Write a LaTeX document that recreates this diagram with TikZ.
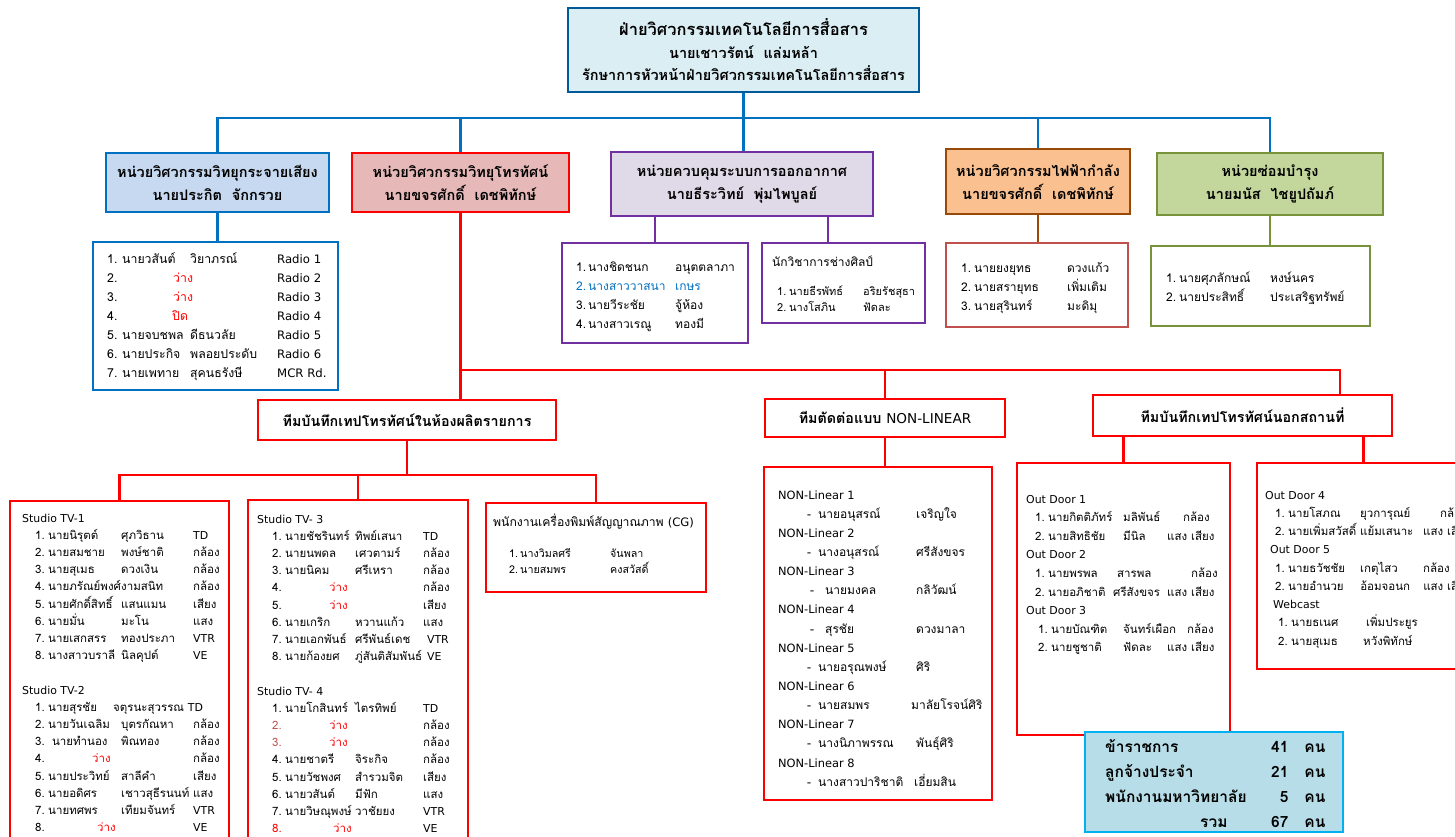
\documentclass[tikz,border=0pt]{standalone}
\usepackage{fontspec}
\setmainfont[Script=Thai]{Loma}
\newfontfamily\latfont[Scale=0.95]{DejaVu Sans}
\definecolor{topfill}{HTML}{DBEEF4}
\definecolor{wireblue}{HTML}{0070C0}
\definecolor{radiofill}{HTML}{C6D9F1}
\definecolor{tvfill}{HTML}{E6B9B8}
\definecolor{airfill}{HTML}{E0DAE8}
\definecolor{airline}{HTML}{7030A0}
\definecolor{powerfill}{HTML}{FAC090}
\definecolor{powerline}{HTML}{984807}
\definecolor{powerlist}{HTML}{C0504D}
\definecolor{greenfill}{HTML}{C3D69B}
\definecolor{greenline}{HTML}{77933C}
\definecolor{sumfill}{HTML}{B7DEE8}
\definecolor{sumline}{HTML}{00B0F0}
\definecolor{numred}{HTML}{C0504D}
\newcommand\lat[1]{{\latfont #1}}
\newcommand\redat[2]{\leavevmode\rlap{\hspace{#1}\textcolor{red}{#2}}}
\newcommand\vacantat[1]{\redat{#1}{ว่าง}}
\tikzset{
  unit/.style={draw, line width=2.2pt, inner sep=0pt, align=center, font=\bfseries\fontsize{14.5}{23}\selectfont},
  team/.style={draw=red, fill=white, line width=2.2pt, inner sep=0pt, font=\bfseries\fontsize{14.3}{16}\selectfont},
  listbox/.style={draw, line width=2pt, inner sep=0pt},
  txt/.style={inner sep=0pt, anchor=base west},
  wire/.style={line width=2.5pt},
}

\begin{document}
\begin{tikzpicture}[x=1pt,y=-1pt]
  \useasboundingbox (0,0) rectangle (1455,837);
  \clip (0,0) rectangle (1455,837);
  \fill[white] (0,0) rectangle (1455,837);

  % top
  \node[unit, fill=topfill, draw=wireblue!80!black, minimum width=351pt, minimum height=84pt, font=\bfseries\fontsize{14.5}{22.5}\selectfont] (faculty) at (743.5,50)
    {{\fontsize{16.5}{22.5}\selectfont ฝ่ายวิศวกรรมเทคโนโลยีการสื่อสาร}\\
     นายเชาวรัตน์\ \ แล่มหล้า\\
     รักษาการหัวหน้าฝ่ายวิศวกรรมเทคโนโลยีการสื่อสาร};

  % units
  \node[unit, fill=radiofill, draw=wireblue, minimum width=223pt, minimum height=59pt] (radio) at (217.5,182.5)
    {หน่วยวิศวกรรมวิทยุกระจายเสียง\\นายประกิต\ \ จักกรวย};
  \node[unit, fill=tvfill, draw=red, minimum width=217pt, minimum height=59pt] (tv) at (460.5,182.5)
    {หน่วยวิศวกรรมวิทยุโทรทัศน์\\นายขจรศักดิ์\ \ เดชพิทักษ์};
  \node[unit, fill=airfill, draw=airline, minimum width=262pt, minimum height=64pt] (air) at (742,184)
    {หน่วยควบคุมระบบการออกอากาศ\\นายธีระวิทย์\ \ พุ่มไพบูลย์};
  \node[unit, fill=powerfill, draw=powerline, minimum width=184pt, minimum height=65pt] (power) at (1038,181.5)
    {หน่วยวิศวกรรมไฟฟ้ากำลัง\\นายขจรศักดิ์\ \ เดชพิทักษ์};
  \node[unit, fill=greenfill, draw=greenline, minimum width=226pt, minimum height=62pt] (green) at (1270,184)
    {หน่วยซ่อมบำรุง\\นายมนัส\ \ ไชยูปถัมภ์};

  \coordinate (bus) at (0,118);
  \draw[wire, wireblue] (radio.north) -- (radio.north |- bus) -- (green.north |- bus) -- (green.north);
  \draw[wire, wireblue] (faculty.south) -- (faculty.south |- air.north);
  \draw[wire, wireblue] (tv.north) -- (tv.north |- bus);
  \draw[wire, wireblue] (power.north) -- (power.north |- bus);

  % unit lists
  \node[listbox, draw=wireblue, minimum width=245pt, minimum height=148pt] (radiolist) at (215.5,316) {};
  \node[txt] (radiotxt) at (107,263) {\fontsize{12.3}{19}\selectfont
    \begin{tabular}[t]{@{}p{15pt}@{}p{68pt}@{}p{87pt}@{}l@{}}
    1. & นายวสันต์ & วิยาภรณ์ & \lat{Radio 1}\\
    2. & \vacantat{51pt} & & \lat{Radio 2}\\
    3. & \vacantat{51pt} & & \lat{Radio 3}\\
    4. & \redat{50pt}{ปิด} & & \lat{Radio 4}\\
    5. & นายจบชพล & ดีธนวลัย & \lat{Radio 5}\\
    6. & นายประกิจ & พลอยประดับ & \lat{Radio 6}\\
    7. & นายเพทาย & สุคนธรังษี & \lat{MCR Rd.}
    \end{tabular}};
  \draw[wire, wireblue] (radio.south) -- (radio.south |- radiolist.north);

  \node[listbox, draw=airline, minimum width=186pt, minimum height=100pt] (airlist) at (655,293) {};
  \node[txt] (airtxt) at (576,271) {\fontsize{12}{19}\selectfont
    \begin{tabular}[t]{@{}p{12pt}@{}p{87pt}@{}l@{}}
    1. & นางชิดชนก & อนุตตลาภา\\
    \textcolor{wireblue}{2.} & \textcolor{wireblue}{นางสาววาสนา} & \textcolor{wireblue}{เกษร}\\
    3. & นายวีระชัย & จู้ห้อง\\
    4. & นางสาวเรณู & ทองมี
    \end{tabular}};
  \node[listbox, draw=airline, minimum width=163pt, minimum height=80pt] (artlist) at (843.5,283) {};
  \node[txt] (arttxt) at (777,266) {\fontsize{11}{16}\selectfont
    \begin{tabular}[t]{@{}p{12pt}@{}p{74pt}@{}l@{}}
    \multicolumn{3}{@{\hspace{-5pt}}l@{}}{\fontsize{12}{16}\selectfont นักวิชาการช่างศิลป์}\\[13pt]
    1. & นายธีรพัทธ์ & อริยรัชสุธา\\
    2. & นางโสภิน & ฟัดละ
    \end{tabular}};
  \coordinate (artdrop) at (828,0);
  \draw[wire, airline] (airlist.north) -- (airlist.north |- air.south);
  \draw[wire, airline] (artdrop |- air.south) -- (artdrop |- artlist.north);

  \node[listbox, draw=powerlist, minimum width=182pt, minimum height=84pt] (powerbox) at (1037,285) {};
  \node[txt] (powertxt) at (961,272) {\fontsize{12}{19}\selectfont
    \begin{tabular}[t]{@{}p{13pt}@{}p{93pt}@{}l@{}}
    1. & นายยงยุทธ & ดวงแก้ว\\
    2. & นายสรายุทธ & เพิ่มเติม\\
    3. & นายสุรินทร์ & มะดิมุ
    \end{tabular}};
  \draw[wire, powerline] (power.south) -- (power.south |- powerbox.north);

  \node[listbox, draw=greenline, minimum width=219pt, minimum height=80pt] (greenlist) at (1260.5,286) {};
  \node[txt] (greentxt) at (1166,282) {\fontsize{12}{19}\selectfont
    \begin{tabular}[t]{@{}p{13pt}@{}p{91pt}@{}l@{}}
    1. & นายศุภลักษณ์ & หงษ์นคร\\
    2. & นายประสิทธิ์ & ประเสริฐทรัพย์
    \end{tabular}};
  \draw[wire, greenline] (green.south) -- (green.south |- greenlist.north);

  % tv teams
  \node[team, minimum width=298pt, minimum height=40pt] (studio) at (407,420)
    {ทีมบันทึกเทปโทรทัศน์ในห้องผลิตรายการ};
  \node[team, minimum width=240pt, minimum height=38pt] (nonlinear) at (885,418)
    {ทีมตัดต่อแบบ \lat{\mdseries NON-LINEAR}};
  \node[team, minimum width=299pt, minimum height=41pt] (outdoor) at (1242.5,415.5)
    {ทีมบันทึกเทปโทรทัศน์นอกสถานที่};
  \coordinate (redbus) at (0,370);
  \coordinate (outdrop) at (1340,0);
  \draw[wire, red] (tv.south) -- (tv.south |- studio.north);
  \draw[wire, red] (tv.south |- redbus) -- (outdrop |- redbus) -- (outdrop |- outdoor.north);
  \draw[wire, red] (nonlinear.north) -- (nonlinear.north |- redbus);

  % studios
  \node[listbox, draw=red, minimum width=219pt, minimum height=349pt] (tv1) at (119.5,675.5) {};
  \node[txt] (tv1txt) at (35,522) {\fontsize{11.5}{17.2}\selectfont
    \begin{tabular}[t]{@{}p{13pt}@{}p{73pt}@{}p{72pt}@{}l@{}}
    \multicolumn{4}{@{\hspace{-13pt}}l@{}}{\lat{Studio TV-1}}\\
    1. & นายนิรุตต์ & ศุภวิธาน & \lat{TD}\\
    2. & นายสมชาย & พงษ์ชาติ & กล้อง\\
    3. & นายสุเมธ & ดวงเงิน & กล้อง\\
    4. & นายภรัณย์พงศ์ & งามสนิท & กล้อง\\
    5. & นายศักดิ์สิทธิ์ & แสนแมน & เสียง\\
    6. & นายมั่น & มะโน & แสง\\
    7. & นายเสกสรร & ทองประภา & \lat{VTR}\\
    8. & นางสาวบราลี & นิลคุปต์ & \lat{VE}\\
    \\
    \multicolumn{4}{@{\hspace{-13pt}}l@{}}{\lat{Studio TV-2}}\\
    1. & นายสุรชัย & \multicolumn{2}{@{\hspace{-8pt}}l@{}}{จตุรนะสุวรรณ \lat{TD}}\\
    2. & นายวันเฉลิม & บุตรกัณหา & กล้อง\\
    3. & \ นายทำนอง & พิณทอง & กล้อง\\
    4. & \vacantat{44pt} & & กล้อง\\
    5. & นายประวิทย์ & สาลีคำ & เสียง\\
    6. & นายอดิศร & เชาวสุธีรนนท์ & แสง\\
    7. & นายทศพร & เทียมจันทร์ & \lat{VTR}\\
    8. & \vacantat{49pt} & & \lat{VE}
    \end{tabular}};

  \node[listbox, draw=red, minimum width=220pt, minimum height=350pt] (tv3) at (358,675) {};
  \node[txt] (tv3txt) at (272,523) {\fontsize{11.5}{17.2}\selectfont
    \begin{tabular}[t]{@{}p{13pt}@{}p{70pt}@{}p{68pt}@{}l@{}}
    \multicolumn{4}{@{\hspace{-15pt}}l@{}}{\lat{Studio TV- 3}}\\
    1. & นายชัชรินทร์ & ทิพย์เสนา & \lat{TD}\\
    2. & นายนพดล & เศวตามร์ & กล้อง\\
    3. & นายนิคม & ศรีเหรา & กล้อง\\
    4. & \vacantat{44pt} & & กล้อง\\
    5. & \vacantat{44pt} & & เสียง\\
    6. & นายเกริก & หวานแก้ว & แสง\\
    7. & นายเอกพันธ์ & ศรีพันธ์เดช & \ \lat{VTR}\\
    8. & นายก้องยศ & ภู่สันติสัมพันธ์ & \ \lat{VE}\\
    \\
    \multicolumn{4}{@{\hspace{-15pt}}l@{}}{\lat{Studio TV- 4}}\\
    1. & นายโกสินทร์ & ไตรทิพย์ & \lat{TD}\\
    \textcolor{numred}{2.} & \vacantat{44pt} & & กล้อง\\
    \textcolor{numred}{3.} & \vacantat{44pt} & & กล้อง\\
    4. & นายชาตรี & จิระกิจ & กล้อง\\
    5. & นายวัชพงศ & สำรวมจิต & เสียง\\
    6. & นายวสันต์ & มีฟัก & แสง\\
    7. & นายวิษณุพงษ์ & วาชัยยง & \lat{VTR}\\
    \textcolor{red}{8.} & \vacantat{48pt} & & \lat{VE}
    \end{tabular}};

  \node[listbox, draw=red, minimum width=220pt, minimum height=89pt] (cg) at (596,547.5) {};
  \node[txt] (cgtxt) at (509,526) {\fontsize{10.7}{16}\selectfont
    \begin{tabular}[t]{@{}p{11pt}@{}p{90pt}@{}l@{}}
    \multicolumn{3}{@{\hspace{-16pt}}l@{}}{\fontsize{12.2}{16}\selectfont พนักงานเครื่องพิมพ์สัญญาณภาพ \lat{(CG)}}\\[15pt]
    1. & นางวิมลศรี & จันพลา\\
    2. & นายสมพร & คงสวัสดิ์
    \end{tabular}};

  \coordinate (sbus) at (0,475);
  \draw[wire, red] (studio.south) -- (studio.south |- sbus);
  \draw[wire, red] (tv1.north) -- (tv1.north |- sbus) -- (cg.north |- sbus) -- (cg.north);
  \draw[wire, red] (tv3.north) -- (tv3.north |- sbus);

  % non-linear
  \node[listbox, draw=red, minimum width=228pt, minimum height=333pt] (nonlist) at (878,633.5) {};
  \node[txt] (nontxt) at (778,499) {\fontsize{12}{19.15}\selectfont
    \begin{tabular}[t]{@{}p{29pt}@{}p{11pt}@{}p{98pt}@{}l@{}}
    \multicolumn{4}{@{}l@{}}{\lat{NON-Linear 1}}\\
    & - & นายอนุสรณ์ & เจริญใจ\\
    \multicolumn{4}{@{}l@{}}{\lat{NON-Linear 2}}\\
    & - & นางอนุสรณ์ & ศรีสังขจร\\
    \multicolumn{4}{@{}l@{}}{\lat{NON-Linear 3}}\\
    & \mbox{\hspace{3pt}-} & \mbox{\hspace{7pt}นายมงคล} & กลิวัฒน์\\
    \multicolumn{4}{@{}l@{}}{\lat{NON-Linear 4}}\\
    & \mbox{\hspace{3pt}-} & \mbox{\hspace{7pt}สุรชัย} & ดวงมาลา\\
    \multicolumn{4}{@{}l@{}}{\lat{NON-Linear 5}}\\
    & - & นายอรุณพงษ์ & ศิริ\\
    \multicolumn{4}{@{}l@{}}{\lat{NON-Linear 6}}\\
    & - & นายสมพร & \hspace{-5pt}มาลัยโรจน์ศิริ\\
    \multicolumn{4}{@{}l@{}}{\lat{NON-Linear 7}}\\
    & - & นางนิภาพรรณ & พันธุ์ศิริ\\
    \multicolumn{4}{@{}l@{}}{\lat{NON-Linear 8}}\\
    & - & นางสาวปาริชาติ & \hspace{-2pt}เอี่ยมสิน
    \end{tabular}};
  \draw[wire, red] (nonlinear.south) -- (nonlinear.south |- nonlist.north);

  % outdoor
  \node[listbox, draw=red, minimum width=213pt, minimum height=272pt] (outA) at (1123.5,599) {};
  \node[txt] (outAtxt) at (1035,503) {\fontsize{11.5}{18.6}\selectfont
    \begin{tabular}[t]{@{}p{13pt}@{}p{75pt}@{}p{44pt}@{}l@{}}
    \multicolumn{4}{@{\hspace{-9pt}}l@{}}{\lat{Out Door 1}}\\
    1. & นายกิตติภัทร์ & มลิพันธ์ & \hspace{16pt}กล้อง\\
    2. & นายสิทธิชัย & มีนิล & แสง เสียง\\
    \multicolumn{4}{@{\hspace{-9pt}}l@{}}{\lat{Out Door 2}}\\
    1. & นายพรพล & \mbox{\hspace{-6pt}สารพล} & \hspace{24pt}กล้อง\\
    2. & นายอภิชาติ & \mbox{\hspace{-10pt}ศรีสังขจร} & แสง เสียง\\
    \multicolumn{4}{@{\hspace{-9pt}}l@{}}{\lat{Out Door 3}}\\
    \mbox{\hspace{3pt}1.} & \mbox{\hspace{3pt}นายบัณฑิต} & จันทร์เผือก & \hspace{20pt}กล้อง\\
    \mbox{\hspace{3pt}2.} & \mbox{\hspace{3pt}นายชูชาติ} & ฟัดละ & แสง เสียง
    \end{tabular}};
  \node[listbox, draw=red, minimum width=213pt, minimum height=206pt] (outB) at (1363.5,566) {};
  \node[txt] (outBtxt) at (1275,499) {\fontsize{11.5}{18.25}\selectfont
    \begin{tabular}[t]{@{}p{13pt}@{}p{72pt}@{}p{63pt}@{}l@{}}
    \multicolumn{4}{@{\hspace{-10pt}}l@{}}{\lat{Out Door 4}}\\
    1. & นายโสภณ & ยุวการุณย์ & \hspace{17pt}กล้อง\\
    2. & นายเพิ่มสวัสดิ์ & แย้มเสนาะ & แสง เสียง\\
    \multicolumn{4}{@{\hspace{-5pt}}l@{}}{\lat{Out Door 5}}\\
    1. & นายธวัชชัย & เกตุไสว & กล้อง\\
    2. & นายอำนวย & อ้อมจอนก & แสง เสียง\\
    \multicolumn{4}{@{\hspace{-2pt}}l@{}}{\lat{Webcast}}\\
    \mbox{\hspace{3pt}1.} & \mbox{\hspace{3pt}นายธเนศ} & \mbox{\hspace{6pt}เพิ่มประยูร} & \\
    \mbox{\hspace{3pt}2.} & \mbox{\hspace{3pt}นายสุเมธ} & \mbox{\hspace{3pt}หวังพิทักษ์} &
    \end{tabular}};
  \draw[wire, red] (outA.north) -- (outA.north |- outdoor.south);
  \draw[wire, red] (outB.north) -- (outB.north |- outdoor.south);

  % summary
  \node[listbox, draw=sumline, fill=sumfill, minimum width=258pt, minimum height=100pt] (summary) at (1214,782) {};
  \node[txt] (sumtxt) at (1105,752) {\bfseries\fontsize{15.5}{25}\selectfont
    \begin{tabular}[t]{@{}p{166pt}@{}r@{\hspace{16pt}}l@{}}
    ข้าราชการ & 41 & คน\\
    ลูกจ้างประจำ & 21 & คน\\
    พนักงานมหาวิทยาลัย & 5 & คน\\
    \hspace{95pt}รวม & 67 & คน
    \end{tabular}};
\end{tikzpicture}
\end{document}
